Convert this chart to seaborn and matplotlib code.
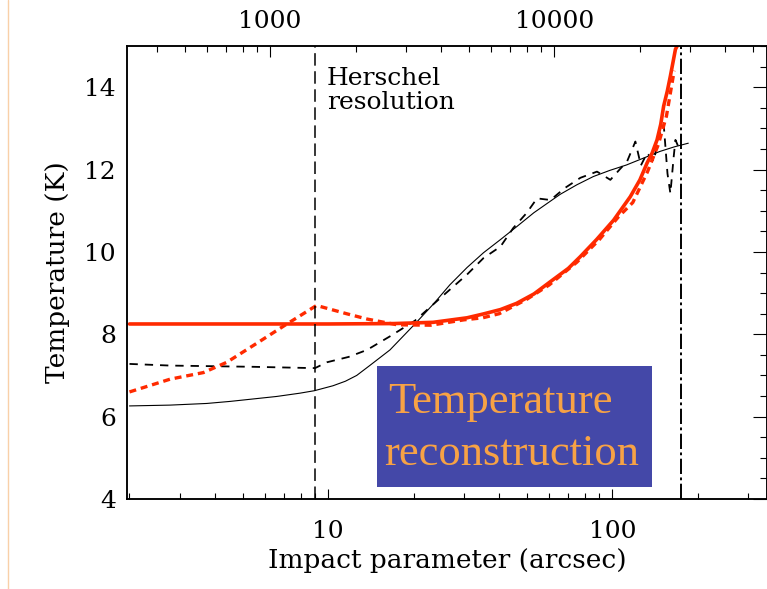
import numpy as np
import pandas as pd
import matplotlib
matplotlib.use("Agg")
import matplotlib.pyplot as plt
import matplotlib.ticker as mticker
from matplotlib.patches import Rectangle
from matplotlib.lines import Line2D
import seaborn as sns

# ---- profiles: impact parameter (arcsec) vs. dust temperature (K) ----
model_r = [2.0, 2.78, 3.74, 4.52, 5.46, 6.59, 7.96, 8.95, 10.4, 11.5, 12.6, 14.0,
           16.5, 20.2, 23.5, 26.8, 30.8, 35.2, 40.4, 46.2, 52.9, 59.6, 65.6, 75.0,
           85.7, 98.0, 112.0, 130.0, 147.0, 165.0, 185.0]
model_T = [6.26, 6.28, 6.32, 6.37, 6.43, 6.49, 6.57, 6.63, 6.75, 6.86, 7.0, 7.24,
           7.62, 8.25, 8.74, 9.2, 9.62, 9.98, 10.3, 10.62, 10.95, 11.2, 11.4, 11.63,
           11.83, 11.98, 12.11, 12.29, 12.44, 12.55, 12.64]

observed_r = [2.0, 2.78, 5.45, 8.65, 9.0, 9.9, 11.8, 13.7, 16.5, 20.2, 25.0, 30.8,
              35.2, 40.4, 44.8, 50.0, 54.3, 60.6, 68.0, 77.2, 88.3, 98.4, 106.0,
              112.7, 120.5, 126.0, 132.5, 140.0, 145.2, 151.6, 156.3, 160.0, 164.4,
              166.7, 172.0]
observed_T = [7.28, 7.24, 7.21, 7.18, 7.18, 7.32, 7.45, 7.62, 7.95, 8.33, 8.9, 9.45,
              9.85, 10.13, 10.58, 10.95, 11.3, 11.26, 11.55, 11.8, 11.95, 11.75, 12.0,
              12.2, 12.68, 12.1, 12.4, 12.2, 12.8, 13.09, 11.9, 11.42, 12.32,
              12.72, 12.5]

recon_r = [2.0, 10.0, 17.0, 23.4, 30.8, 35.0, 40.4, 46.0, 53.0, 60.6, 70.0, 77.0,
           88.0, 101.0, 115.6, 125.0, 132.5, 138.0, 143.6, 148.0, 151.5, 156.0,
           160.0, 166.7, 169.0]
recon_T = [8.25, 8.25, 8.26, 8.29, 8.4, 8.49, 8.6, 8.75, 8.98, 9.28, 9.6, 9.88,
           10.3, 10.77, 11.34, 11.75, 12.16, 12.4, 12.72, 13.1, 13.54, 13.9,
           14.27, 14.92, 15.0]

recon_obs_r = [2.0, 2.78, 3.64, 4.4, 5.46, 7.16, 9.1, 11.6, 13.7, 17.5, 23.0, 30.0,
               35.0, 40.0, 50.0, 60.0, 75.0, 90.0, 105.0, 118.0, 133.0, 145.0,
               155.0, 165.0]
recon_obs_T = [6.6, 6.91, 7.07, 7.32, 7.73, 8.25, 8.7, 8.5, 8.37, 8.23, 8.22, 8.35,
               8.4, 8.5, 8.85, 9.2, 9.75, 10.3, 10.85, 11.2, 11.95, 12.6, 13.3, 14.4]

herschel_res = 9.0      # arcsec
outer_edge = 175.0      # arcsec
au_per_arcsec = 160.0   # top axis conversion

x_lim = (1.96, 350.0)
y_lim = (4.0, 15.0)
x_ticks = [10, 100]
top_ticks = [1000, 10000]
y_ticks = [4, 6, 8, 10, 12, 14]

sns.set_style("white")
plt.rcParams["font.family"] = ["DejaVu Serif"]
plt.rcParams["lines.scale_dashes"] = False
for key in ("text.color", "axes.labelcolor", "xtick.color", "ytick.color"):
    plt.rcParams[key] = "black"

W, H = 767, 589
fig = plt.figure(figsize=(W / 100, H / 100), dpi=100)
ax = fig.add_axes([127 / W, 1 - 499 / H, (767 - 127) / W, (499 - 46) / H])

red = "#ff2a00"
frames = {
    "model": pd.DataFrame({"r": model_r, "T": model_T}),
    "observed": pd.DataFrame({"r": observed_r, "T": observed_T}),
    "recon": pd.DataFrame({"r": recon_r, "T": recon_T}),
    "recon_obs": pd.DataFrame({"r": recon_obs_r, "T": recon_obs_T}),
}
sns.lineplot(data=frames["model"], x="r", y="T", ax=ax, color="black", lw=0.8,
             estimator=None, sort=False)
sns.lineplot(data=frames["observed"], x="r", y="T", ax=ax, color="black", lw=1.3,
             linestyle=(0, (6, 5)), estimator=None, sort=False)
sns.lineplot(data=frames["recon_obs"], x="r", y="T", ax=ax, color=red, lw=2.4,
             linestyle=(0, (5, 3.5)), estimator=None, sort=False)
sns.lineplot(data=frames["recon"], x="r", y="T", ax=ax, color=red, lw=2.6,
             estimator=None, sort=False)

ax.axvline(herschel_res, color="black", lw=1.1, linestyle=(0, (9, 4)))
ax.axvline(outer_edge, color="black", lw=1.4, linestyle=(0, (11, 2.5, 2, 2.5)))

ax.set_xscale("log")
ax.set_xlim(*x_lim)
ax.set_ylim(*y_lim)
ax.xaxis.set_major_locator(mticker.FixedLocator(x_ticks))
ax.xaxis.set_major_formatter(mticker.FixedFormatter([str(v) for v in x_ticks]))
ax.xaxis.set_minor_locator(mticker.LogLocator(base=10, subs=np.arange(2, 10)))
ax.xaxis.set_minor_formatter(mticker.NullFormatter())
ax.yaxis.set_major_locator(mticker.FixedLocator(y_ticks))
ax.yaxis.set_minor_locator(mticker.MultipleLocator(0.5))

ax.tick_params(axis="x", which="major", direction="in", length=7, width=0.8,
               labelsize=18, pad=15, top=False)
ax.tick_params(axis="x", which="minor", direction="in", length=4.3, width=0.8, top=False)
ax.tick_params(axis="y", which="major", direction="in", length=10, width=0.8,
               labelsize=18, pad=8, right=True)
ax.tick_params(axis="y", which="minor", direction="in", length=5, width=0.8, right=True)

top = ax.twiny()
top.set_xscale("log")
top.set_xlim(x_lim[0] * au_per_arcsec, x_lim[1] * au_per_arcsec)
top.xaxis.set_major_locator(mticker.FixedLocator(top_ticks))
top.xaxis.set_major_formatter(mticker.FixedFormatter([str(v) for v in top_ticks]))
top.xaxis.set_minor_locator(mticker.LogLocator(base=10, subs=np.arange(2, 10)))
top.xaxis.set_minor_formatter(mticker.NullFormatter())
top.tick_params(axis="x", which="major", direction="in", length=8, width=0.8,
                labelsize=18, pad=9)
top.tick_params(axis="x", which="minor", direction="in", length=4.3, width=0.8)

for a in (ax, top):
    for s in a.spines.values():
        s.set_linewidth(1.1)
        s.set_color("black")

ax.set_xlabel("Impact parameter (arcsec)", fontsize=19, labelpad=4)
ax.set_ylabel("Temperature (K)", fontsize=19, labelpad=10)

ax.text(0.312, 0.953, "Herschel\nresolution", transform=ax.transAxes,
        fontsize=18, va="top", ha="left", linespacing=1.05)

# caption panel
fig.patches.append(Rectangle((377 / W, 1 - 487 / H), (652 - 377) / W, (487 - 366) / H,
                             transform=fig.transFigure, facecolor="#4448a8",
                             edgecolor="none", zorder=10))
fig.text(388 / W, 1 - 413 / H, "Temperature", fontsize=32, color="#f7a245",
         family="Liberation Serif", ha="left", va="baseline", zorder=11)
fig.text(384 / W, 1 - 465 / H, "reconstruction", fontsize=32, color="#f7a245",
         family="Liberation Serif", ha="left", va="baseline", zorder=11)

fig.add_artist(Line2D([8 / W, 8 / W], [0, 1], color="#f9d0a8", lw=1.0))

fig.savefig("out.png", dpi=100)
